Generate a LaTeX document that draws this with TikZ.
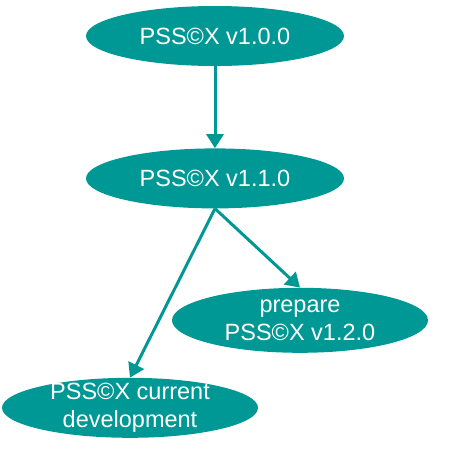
\documentclass[tikz,border=0pt]{standalone}
\usepackage{fontspec}
\setmainfont{Liberation Sans}
\usepackage{xcolor}
\usepackage{tikz}
\usetikzlibrary{shapes.geometric,arrows.meta,positioning,calc}
\definecolor{PSSTEAL}{RGB}{0,152,149}

\begin{document}
\begin{tikzpicture}[x=1pt, y=1pt, node distance = 82pt]
% Define
\tikzstyle{ELLIPSE_1} = [ellipse, fill=PSSTEAL, text=white, align=center, inner xsep=0pt, inner ysep=-9pt, minimum width=258pt, minimum height=60pt, font=\fontsize{23.5}{28.5}\selectfont]
\tikzstyle{ELLIPSE_2} = [ELLIPSE_1, minimum width=256pt, minimum height=65pt]
\tikzstyle{ARROW} = [draw=PSSTEAL, line width=3pt, -{Triangle[length=14pt, width=17pt]}]
\useasboundingbox (0,0) rectangle (458,-451);
% Place node
\node [ELLIPSE_1] at (215,-36) (V100) {PSS©X v1.0.0};
\node [ELLIPSE_1, below=of V100] (V110) {PSS©X v1.1.0};
\node [ELLIPSE_2, below=79pt of V110.south, xshift=85pt] (PREPARE) {prepare\\ PSS©X v1.2.0};
\node [ELLIPSE_1, minimum width=256pt, below=169pt of V110.south, xshift=-85pt] (CURRENT) {PSS©X current\\ development};
% LINES and ARROWS
\path [ARROW] (V100) -- (V110);
\path [ARROW] (V110.south) -- (PREPARE.north);
\path [ARROW] (V110.south) -- (CURRENT.north);
\end{tikzpicture}
\end{document}
